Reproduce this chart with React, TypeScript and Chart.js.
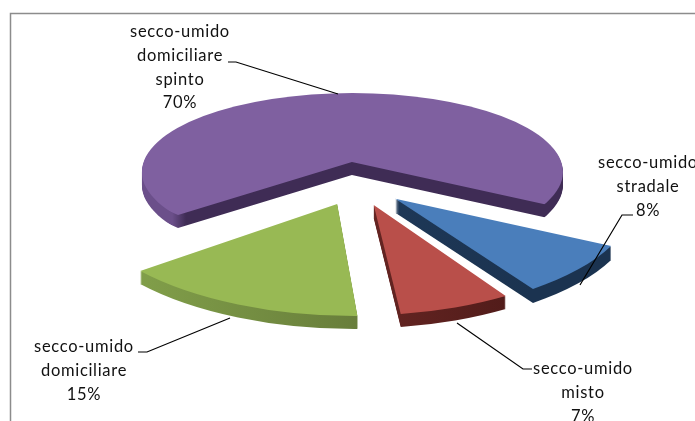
import React, { useEffect, useRef } from "react";
import { Chart, registerables } from "chart.js";

Chart.register(...registerables);

const categories = ["secco-umido stradale", "secco-umido misto", "secco-umido domiciliare", "secco-umido domiciliare spinto"];
const percentages = [8, 7, 15, 70];

const labelLines = [
  ["secco-umido", "stradale", "8%"],
  ["secco-umido", "misto", "7%"],
  ["secco-umido", "domiciliare", "15%"],
  ["secco-umido", "domiciliare", "spinto", "70%"],
];

const topColors = ["#4a7ebb", "#b94f4a", "#98b954", "#7f60a0"];
const wallLeft = ["#1f3a5a", "#6f2a27", "#82a04a", "#6b4f8a"];
const wallRight = ["#1b3350", "#521c1a", "#5c6e34", "#3f2c55"];
const wallStops = [[0.35, 0.75], [0.35, 0.75], [0.1, 0.75], [0.11, 0.14]];

// presentation of the tilted 3D pie: one perspective matrix per slice [a, b, c, d]
const perspective = [
  [240, -11.9, 19.6, 111.1],
  [254, -8.4, 4.9, 110.1],
  [259, 8.4, -2.3, 111.7],
  [229.4, 0.95, -1.2, 81.9],
];
const explode = [0.21, 0.205, 0.2, 0.27];
const depth = [14, 13, 13, 13];
// the far slice is foreshortened: its rim follows a smaller ellipse [dx, dy, rx, ry]
const rim: (number[] | null)[] = [null, null, null, [0.5, 10, 210.5, 79]];

const labelX = [648, 583, 84, 180];
const labelY = [163, 369, 347, 32];
const lineH = 23.6;
const leaders = [
  [[633, 215], [622, 215], [580, 285]],
  [[532, 369], [523, 369], [457, 323]],
  [[138, 352], [147, 352], [230, 318]],
  [[228, 62], [236, 62], [338, 94]],
];

const pie3d = {
  id: "pie3d",
  beforeDraw(chart: any) {
    const { ctx } = chart;
    ctx.save();
    ctx.strokeStyle = "#8c8c8c";
    ctx.lineWidth = 1.5;
    ctx.beginPath();
    ctx.moveTo(10.5, 421);
    ctx.lineTo(10.5, 13.5);
    ctx.lineTo(695, 13.5);
    ctx.stroke();
    ctx.restore();
  },
  beforeDatasetDraw(chart: any) {
    const { ctx } = chart;
    const arcs = chart.getDatasetMeta(0).data;
    for (let i = arcs.length - 1; i >= 0; i--) {
      const arc = arcs[i];
      const r = arc.outerRadius;
      const [a, b, c, d] = perspective[i];
      const mid = (arc.startAngle + arc.endAngle) / 2;
      const ux = Math.cos(mid) * explode[i];
      const uy = Math.sin(mid) * explode[i];
      const ax = a * ux + c * uy;
      const ay = b * ux + d * uy;
      const paint = (dy: number, color: any) => {
        ctx.save();
        ctx.translate(arc.x + ax, arc.y + ay + dy);
        const e = rim[i];
        if (e) {
          ctx.beginPath();
          ctx.ellipse(e[0], e[1], e[2], e[3], 0, 0, Math.PI * 2);
          ctx.clip();
        }
        ctx.transform(a / r, b / r, c / r, d / r, 0, 0);
        ctx.translate(-arc.x, -arc.y);
        const proxy = Object.create(arc, {
          options: { value: { ...arc.options, backgroundColor: color, borderColor: color, borderWidth: 0 }, writable: true },
        });
        arc.draw.call(proxy, ctx);
        ctx.restore();
      };
      const grad = ctx.createLinearGradient(arc.x - r, 0, arc.x + r, 0);
      grad.addColorStop(wallStops[i][0], wallLeft[i]);
      grad.addColorStop(wallStops[i][1], wallRight[i]);
      for (let k = depth[i]; k >= 1; k--) paint(k, grad);
      paint(0, topColors[i]);
    }
    return false;
  },
  afterDraw(chart: any) {
    const { ctx } = chart;
    ctx.save();
    ctx.strokeStyle = "#000";
    ctx.lineWidth = 1.2;
    leaders.forEach((pts) => {
      ctx.beginPath();
      pts.forEach(([x, y], k) => (k ? ctx.lineTo(x, y) : ctx.moveTo(x, y)));
      ctx.stroke();
    });
    ctx.fillStyle = "#111";
    ctx.font = '16.5px Lato, "Open Sans", sans-serif';
    ctx.letterSpacing = "0.7px";
    ctx.textAlign = "center";
    ctx.textBaseline = "middle";
    labelLines.forEach((lines, i) => {
      lines.forEach((t, k) => ctx.fillText(t, labelX[i], labelY[i] + k * lineH));
    });
    ctx.restore();
  },
};

export default function App() {
  const ref = useRef<HTMLCanvasElement>(null);
  useEffect(() => {
    const chart = new Chart(ref.current as HTMLCanvasElement, {
      type: "pie",
      data: {
        labels: categories,
        datasets: [{ data: percentages, backgroundColor: topColors, borderWidth: 0 }],
      },
      options: {
        responsive: false,
        animation: false,
        rotation: 121,
        devicePixelRatio: 1,
        layout: { padding: { left: 19, bottom: 53 } },
        plugins: { legend: { display: false }, tooltip: { enabled: false } },
      },
      plugins: [pie3d],
    } as any);
    return () => chart.destroy();
  }, []);
  return (
    <canvas
      ref={ref}
      width={695}
      height={421}
      style={{ position: "fixed", left: 0, top: 0, width: 695, height: 421, display: "block", background: "#fff" }}
    />
  );
}
